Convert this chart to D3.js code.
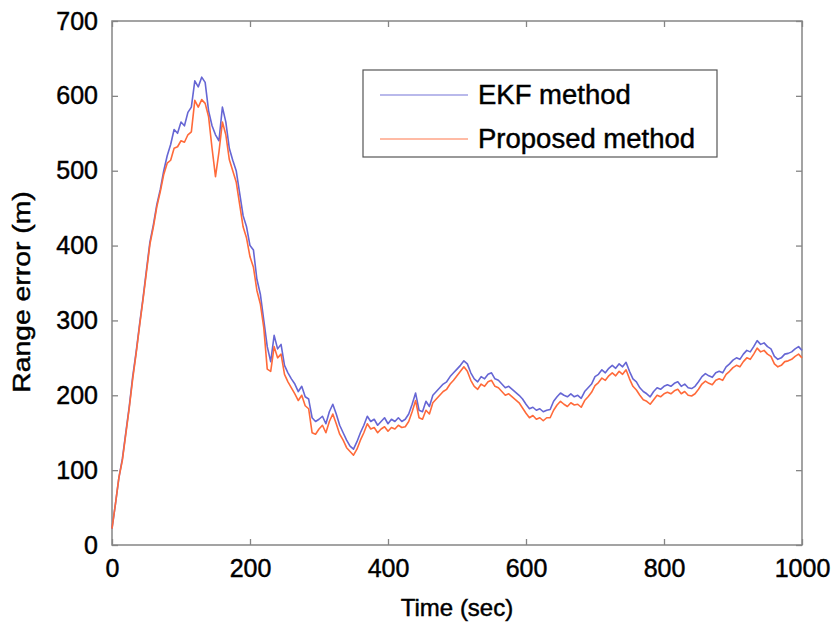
<!DOCTYPE html>
<html><head><meta charset="utf-8">
<script src="https://cdn.jsdelivr.net/npm/d3@7"></script>
<style>body{margin:0;background:#fff}svg{display:block}text{font-family:"Liberation Sans",Arial,Helvetica,sans-serif;stroke:#000;stroke-width:0.45px}</style>
</head><body><svg id="c" width="837" height="632"></svg>
<script>
const times = d3.range(0, 1001, 5);
const ekf = [22,55,90,115,150,185,225,258,295,330,368,405,428,455,475,500,520,535,555,550,565,560,578,585,620,612,625,618,580,560,548,540,585,565,530,514,500,470,440,425,400,394,355,335,300,265,245,280,262,268,240,230,222,215,205,212,198,195,170,165,168,172,162,178,188,175,160,150,140,132,128,138,150,160,172,165,168,160,165,170,162,168,165,170,165,168,175,188,203,180,178,192,185,200,205,210,215,218,225,230,235,240,246,242,230,222,218,225,222,228,230,222,220,215,210,212,208,204,200,195,188,182,184,180,182,178,180,181,192,198,203,200,198,202,198,200,196,205,210,215,225,228,234,230,236,240,236,242,238,244,232,222,218,210,205,202,198,205,210,208,212,214,212,216,218,212,215,210,209,212,218,225,229,226,224,230,232,230,238,242,247,250,248,255,260,258,265,273,268,270,265,262,252,248,250,255,256,258,262,265,260];
const proposed = [22,55,90,113,148,183,222,256,293,328,365,402,425,452,472,495,510,514,530,532,540,538,548,552,594,585,595,590,572,530,492,525,565,548,515,500,485,455,425,410,385,371,340,322,290,235,232,265,250,255,228,218,210,202,193,200,186,182,150,148,155,160,150,165,175,162,148,140,130,125,120,128,140,150,162,155,157,150,155,158,152,157,155,160,157,158,165,178,193,170,168,180,175,190,195,200,205,208,215,220,226,232,238,232,220,212,208,215,212,218,220,212,210,205,200,202,198,194,190,183,176,170,173,168,170,166,170,170,180,187,192,188,185,190,187,188,184,193,198,204,213,217,223,220,226,230,226,232,228,234,222,212,207,200,194,192,188,194,200,198,202,204,202,206,208,202,205,200,199,202,208,215,219,216,214,220,222,220,228,232,237,240,238,245,250,248,255,263,258,260,255,252,242,238,240,245,246,248,252,255,250];
const xTicks = [0,200,400,600,800,1000];
const yTicks = [0,100,200,300,400,500,600,700];
const seriesNames = ["EKF method","Proposed method"];
const colors = ["#6666d4","#ff6a3a"];

const svg = d3.select("#c");
const L=112, R=802, T=21, B=545;
const x = d3.scaleLinear().domain([0,1000]).range([L,R]);
const y = d3.scaleLinear().domain([0,700]).range([B,T]);
const axisCol = "#858585";

svg.append("rect").attr("x",L).attr("y",T).attr("width",R-L).attr("height",B-T)
  .attr("fill","none").attr("stroke",axisCol).attr("stroke-width",1.5);

function styleAxis(g){
  g.select(".domain").remove();
  g.selectAll(".tick line").attr("stroke",axisCol).attr("stroke-width",1.3);
  g.selectAll(".tick text").attr("fill","#000").attr("font-size",25);
}
svg.append("g").attr("transform",`translate(0,${B})`)
  .call(d3.axisBottom(x).tickValues(xTicks).tickSize(-6).tickPadding(14).tickFormat(d3.format("d")))
  .call(styleAxis);
svg.append("g").attr("transform",`translate(0,${T})`)
  .call(d3.axisTop(x).tickValues(xTicks).tickSize(-6).tickFormat(""))
  .call(styleAxis);
svg.append("g").attr("transform",`translate(${L},0)`)
  .call(d3.axisLeft(y).tickValues(yTicks).tickSize(-6).tickPadding(14).tickFormat(d3.format("d")))
  .call(styleAxis);
svg.append("g").attr("transform",`translate(${R},0)`)
  .call(d3.axisRight(y).tickValues(yTicks).tickSize(-6).tickFormat(""))
  .call(styleAxis);

const line = d3.line().x((d,i)=>x(times[i])).y(d=>y(d));
[ekf, proposed].forEach((s,k)=>{
  svg.append("path").datum(s).attr("d",line).attr("fill","none")
    .attr("stroke",colors[k]).attr("stroke-width",1.6).attr("stroke-linejoin","round");
});

svg.append("text").attr("x",(L+R)/2).attr("y",616).attr("text-anchor","middle")
  .attr("font-size",24).text("Time (sec)");
svg.append("text").attr("transform",`translate(30,${(T+B)/2 + 9}) rotate(-90) scale(1.18,1)`)
  .attr("text-anchor","middle").attr("font-size",24).text("Range error (m)");

const lg = svg.append("g");
lg.append("rect").attr("x",363).attr("y",70).attr("width",354).attr("height",87)
  .attr("fill","#fff").attr("stroke","#555").attr("stroke-width",1.2);
seriesNames.forEach((n,i)=>{
  const yy = 95 + i*44;
  lg.append("line").attr("x1",380).attr("x2",468).attr("y1",yy).attr("y2",yy)
    .attr("stroke",colors[i]).attr("stroke-width",1.6).attr("opacity",0.6);
  lg.append("text").attr("x",478).attr("y",yy+9).attr("font-size",27.5).text(n);
});
</script></body></html>
